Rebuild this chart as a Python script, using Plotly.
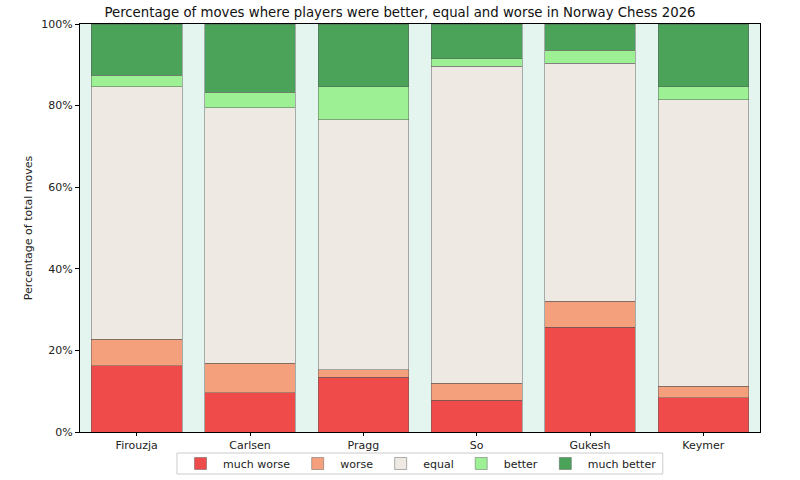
import plotly.graph_objects as go

players = ["Firouzja", "Carlsen", "Pragg", "So", "Gukesh", "Keymer"]
much_worse = [16.2, 9.6, 13.4, 7.8, 25.7, 8.4]
worse = [6.5, 7.2, 1.9, 4.1, 6.3, 2.8]
equal = [61.9, 62.7, 61.2, 77.7, 58.4, 70.2]
better = [2.9, 3.8, 8.1, 1.9, 3.2, 3.2]
much_better = [12.5, 16.7, 15.4, 8.5, 6.4, 15.4]

series = [
    ("much worse", much_worse, "#EF4B4B"),
    ("worse", worse, "#F5A07C"),
    ("equal", equal, "#EEEAE3"),
    ("better", better, "#9EF095"),
    ("much better", much_better, "#4BA35A"),
]

fig = go.Figure()
for name, vals, col in series:
    fig.add_trace(go.Bar(
        x=players, y=vals, name=name, width=0.8,
        marker=dict(color=col, line=dict(color="rgba(90,90,90,0.6)", width=0.8)),
    ))

font = "DejaVu Sans, sans-serif"
fig.update_layout(
    barmode="stack",
    width=800, height=480,
    margin=dict(l=80, r=40, t=24, b=48, autoexpand=False),
    paper_bgcolor="white",
    plot_bgcolor="#E4F5F0",
    font=dict(family=font, size=11, color="#222"),
    title=dict(text="Percentage of moves where players were better, equal and worse in Norway Chess 2026",
               x=0.5, xanchor="center", y=1 - 12 / 480, yanchor="middle",
               font=dict(size=13.3, color="#111")),
    legend=dict(orientation="h", x=0.5, xanchor="center", y=-0.0772, yanchor="middle",
                borderwidth=0, font=dict(size=11),
                bgcolor="rgba(255,255,255,0)",
                traceorder="normal", itemwidth=35, tracegroupgap=0),
    bargap=0.2,
    shapes=[dict(type="rect", xref="paper", yref="paper",
                 x0=0.1426, x1=0.857, y0=-0.103, y1=-0.0515,
                 line=dict(color="#cccccc", width=1), fillcolor="rgba(0,0,0,0)", layer="below")],
)
fig.update_xaxes(range=[-0.5, 5.5], showline=True, linecolor="black", linewidth=1, mirror=True,
                 ticks="outside", ticklen=3, tickcolor="black", showgrid=False)
fig.update_yaxes(range=[0, 100], dtick=20, ticksuffix="%", showline=True, linecolor="black",
                 linewidth=1, mirror=True, ticks="outside", ticklen=4, tickcolor="black",
                 showgrid=False, zeroline=False,
                 title=dict(text="Percentage of total moves", font=dict(size=11), standoff=6))

fig.write_html("out.html")
